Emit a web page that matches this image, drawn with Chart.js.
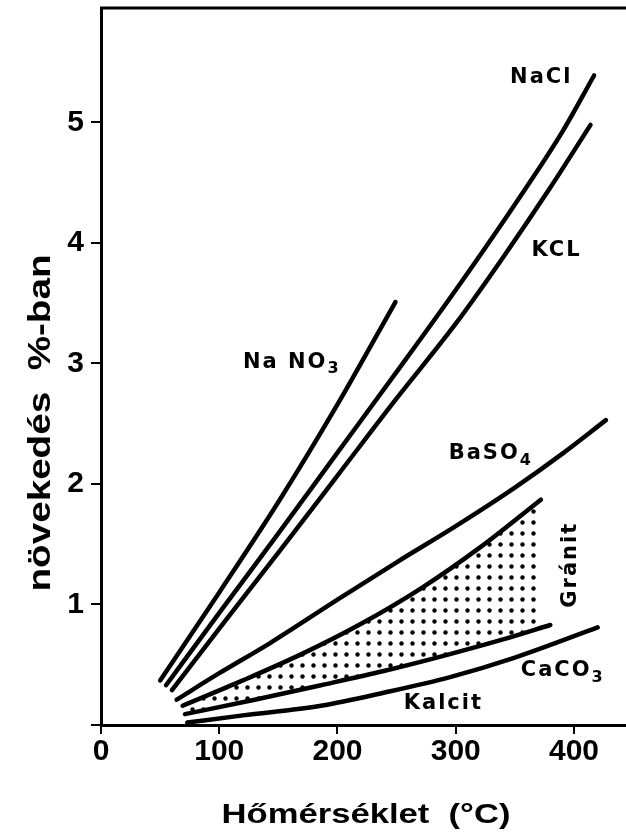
<!DOCTYPE html>
<html>
<head>
<meta charset="utf-8">
<script src="https://cdn.jsdelivr.net/npm/chart.js@4"></script>
<style>
  html, body { margin: 0; padding: 0; background: #fff; }
  #wrap { width: 626px; height: 836px; }
</style>
</head>
<body>
<div id="wrap"><canvas id="c" width="626" height="836"></canvas></div>
<script>
// Hőtágulás: növekedés %-ban a hőmérséklet függvényében
const naNO3Temp = [50, 100, 150, 200, 249];
const naNO3Growth = [0.37, 1.10, 1.85, 2.66, 3.51];

const naClTemp = [55, 100, 150, 200, 250, 300, 350, 390, 417];
const naClGrowth = [0.33, 0.93, 1.59, 2.26, 2.93, 3.61, 4.32, 4.92, 5.39];

const kClTemp = [60, 100, 150, 200, 250, 300, 340, 380, 414];
const kClGrowth = [0.29, 0.80, 1.43, 2.07, 2.71, 3.33, 3.88, 4.46, 4.98];

const baSO4Temp = [64, 100, 143, 200, 250, 300, 350, 390, 427];
const baSO4Growth = [0.21, 0.43, 0.68, 1.04, 1.35, 1.65, 1.97, 2.25, 2.53];

const granitHiTemp = [69, 120, 170, 220, 270, 320, 372];
const granitHiGrowth = [0.16, 0.37, 0.59, 0.84, 1.13, 1.47, 1.87];

const granitLoTemp = [71, 130, 186, 240, 292, 340, 380];
const granitLoGrowth = [0.09, 0.21, 0.33, 0.45, 0.58, 0.71, 0.83];

const kalcitTemp = [73, 120, 186, 240, 296, 350, 420];
const kalcitGrowth = [0.02, 0.08, 0.16, 0.27, 0.40, 0.56, 0.81];

const xTicks = [0, 100, 200, 300, 400];
const yTicks = [0, 1, 2, 3, 4, 5];

// görbefeliratok (adat-koordinátákban)
const curveLabels = [
  { parts: [['NaCl']], t: 346, v: 5.37 },
  { parts: [['KCL']], t: 364, v: 3.94 },
  { parts: [['Na NO'], ['3', true]], t: 120, v: 3.01 },
  { parts: [['BaSO'], ['4', true]], t: 294, v: 2.25 },
  { parts: [['CaCO'], ['3', true]], t: 355, v: 0.45 },
  { parts: [['Kalcit']], t: 256, v: 0.18 },
  { parts: [['Gránit']], t: 397, v: 1.33, rotate: true }
];

const pts = (xs, ys) => xs.map((x, i) => ({ x: x, y: ys[i] }));

function dotPattern() {
  const c = document.createElement('canvas');
  c.width = 11; c.height = 11;
  const g = c.getContext('2d');
  g.fillStyle = '#000';
  g.beginPath();
  g.arc(5.5, 5.5, 2.2, 0, Math.PI * 2);
  g.fill();
  return g.createPattern(c, 'repeat');
}

const curve = (label, xs, ys, extra) => Object.assign({
  label: label,
  data: pts(xs, ys),
  borderColor: '#000',
  borderWidth: 4.5,
  borderCapStyle: 'round',
  pointRadius: 0,
  cubicInterpolationMode: 'monotone',
  fill: false
}, extra || {});

const LABEL_FONT = '"DejaVu Sans", "Liberation Sans", sans-serif';
const LABEL_SIZE = 21;
const SUB_SIZE = 16;

function stretchedText(ctx, text, cx, cy, width, font, rot) {
  ctx.save();
  ctx.font = font;
  const w = ctx.measureText(text).width;
  ctx.translate(cx, cy);
  ctx.rotate(rot);
  ctx.scale(width / w, 1);
  ctx.textAlign = 'center';
  ctx.textBaseline = 'alphabetic';
  ctx.fillStyle = '#000';
  ctx.fillText(text, 0, 0);
  ctx.restore();
}

const decor = {
  id: 'decor',
  afterDatasetsDraw(chart) {
    const { ctx, chartArea, scales } = chart;
    // keret felső vonala
    ctx.save();
    ctx.strokeStyle = '#000';
    ctx.lineWidth = 3;
    ctx.beginPath();
    ctx.moveTo(chartArea.left - 1, chartArea.top);
    ctx.lineTo(chartArea.right, chartArea.top);
    ctx.stroke();
    ctx.restore();

    // görbék nevei
    curveLabels.forEach(lb => {
      const px = scales.x.getPixelForValue(lb.t);
      const py = scales.y.getPixelForValue(lb.v);
      ctx.save();
      ctx.fillStyle = '#000';
      ctx.textBaseline = 'middle';
      ctx.letterSpacing = '2px';
      let total = 0;
      lb.parts.forEach(([txt, sub]) => {
        ctx.font = 'bold ' + (sub ? SUB_SIZE : LABEL_SIZE) + 'px ' + LABEL_FONT;
        total += ctx.measureText(txt).width;
      });
      ctx.translate(px, py);
      let x = 0;
      if (lb.rotate) {
        ctx.rotate(-Math.PI / 2);
        x = -total / 2;
      }
      lb.parts.forEach(([txt, sub]) => {
        ctx.font = 'bold ' + (sub ? SUB_SIZE : LABEL_SIZE) + 'px ' + LABEL_FONT;
        ctx.fillText(txt, x, sub ? 7 : 0);
        x += ctx.measureText(txt).width;
      });
      ctx.restore();
    });

    // tengelyfeliratok
    stretchedText(ctx, 'növekedés  %-ban', 50, 423, 337,
      'bold 31px "Liberation Sans", Arial, sans-serif', -Math.PI / 2);
    stretchedText(ctx, 'Hőmérséklet  (°C)', 366, 823, 289,
      'bold 27px "Liberation Sans", Arial, sans-serif', 0);
  }
};

const tickFont = { family: '"Liberation Sans Narrow", "Liberation Sans", Arial, sans-serif', size: 30, weight: 'bold' };

new Chart(document.getElementById('c'), {
  type: 'line',
  data: {
    datasets: [
      curve('NaNO3', naNO3Temp, naNO3Growth),
      curve('NaCl', naClTemp, naClGrowth),
      curve('KCL', kClTemp, kClGrowth),
      curve('BaSO4', baSO4Temp, baSO4Growth),
      curve('Gránit felső', granitHiTemp, granitHiGrowth, { fill: '+1', backgroundColor: dotPattern() }),
      curve('Gránit alsó', granitLoTemp, granitLoGrowth),
      curve('CaCO3 Kalcit', kalcitTemp, kalcitGrowth)
    ]
  },
  options: {
    responsive: false,
    animation: false,
    layout: { padding: { top: 8, left: 0, right: 0, bottom: 0 } },
    plugins: {
      legend: { display: false },
      tooltip: { enabled: false },
      title: { display: false }
    },
    scales: {
      x: {
        type: 'linear',
        min: 0,
        max: 444,
        afterFit: s => { s.height = 111; s.paddingLeft = 0; s.paddingRight = 0; },
        afterBuildTicks: s => { s.ticks = xTicks.map(v => ({ value: v })); },
        border: { display: true, color: '#000', width: 3 },
        grid: { drawOnChartArea: false, drawTicks: true, tickLength: 9, color: '#000', lineWidth: 2 },
        ticks: { color: '#000', font: tickFont, padding: 0, maxRotation: 0 }
      },
      y: {
        type: 'linear',
        min: 0,
        max: 5.95,
        afterFit: s => { s.width = 101; s.paddingTop = 0; s.paddingBottom = 0; },
        afterBuildTicks: s => { s.ticks = yTicks.map(v => ({ value: v })); },
        border: { display: true, color: '#000', width: 3 },
        grid: { drawOnChartArea: false, drawTicks: true, tickLength: 10, color: '#000', lineWidth: 2 },
        ticks: { color: '#000', font: tickFont, padding: 7, callback: v => (v === 0 ? '' : v) }
      }
    }
  },
  plugins: [decor]
});
</script>
</body>
</html>
